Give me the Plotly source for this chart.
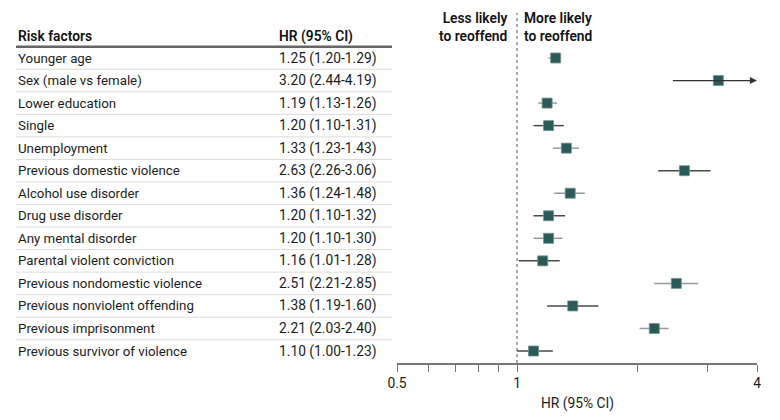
import math
import plotly.graph_objects as go

# ---------------- data ----------------
factors = ["Younger age", "Sex (male vs female)", "Lower education", "Single",
           "Unemployment", "Previous domestic violence", "Alcohol use disorder",
           "Drug use disorder", "Any mental disorder", "Parental violent conviction",
           "Previous nondomestic violence", "Previous nonviolent offending",
           "Previous imprisonment", "Previous survivor of violence"]
hr = [1.25, 3.20, 1.19, 1.20, 1.33, 2.63, 1.36, 1.20, 1.20, 1.16, 2.51, 1.38, 2.21, 1.10]
lo = [1.20, 2.44, 1.13, 1.10, 1.23, 2.26, 1.24, 1.10, 1.10, 1.01, 2.21, 1.19, 2.03, 1.00]
hi = [1.29, 4.19, 1.26, 1.31, 1.43, 3.06, 1.48, 1.32, 1.30, 1.28, 2.85, 1.60, 2.40, 1.23]
tick_vals = [0.5, 0.6, 0.7, 0.8, 0.9, 1, 2, 3, 4]
tick_text = ["0.5", "", "", "", "", "1", "", "", "4"]
x_min, x_max = 0.5, 4

# ---------------- layout helpers ----------------
W, H = 780, 420
FONT = "Roboto, sans-serif"
row0_px, row_step = 58.0, 22.54
axis_px = 363.0
def px_to_row(p):
    return (p - row0_px) / row_step
y_top = px_to_row(0)
y_bot = px_to_row(axis_px)

fig = go.Figure()

# CI lines
n = len(factors)
for i in range(n):
    col = "#4a4a4a" if i % 2 else "#9a9a9a"
    if hi[i] <= x_max:
        fig.add_trace(go.Scatter(x=[lo[i], hi[i]], y=[i, i], mode="lines",
                                 line=dict(color=col, width=1.5),
                                 hoverinfo="skip", showlegend=False))
    else:
        fig.add_annotation(x=math.log10(x_max), y=i, ax=math.log10(lo[i]), ay=i,
                           xref="x", yref="y", axref="x", ayref="y", text="",
                           showarrow=True, arrowhead=2, arrowsize=1.1,
                           arrowwidth=1.3, arrowcolor="#333333")

fig.add_trace(go.Scatter(x=hr, y=list(range(n)), mode="markers",
                         marker=dict(symbol="square", size=10, color="#2a5b58",
                                     line=dict(color="#6f928f", width=0.8)),
                         hoverinfo="skip", showlegend=False))

# table text
for i in range(n):
    fig.add_annotation(x=16 / W, y=i, xref="paper", yref="y", text=factors[i],
                       showarrow=False, xanchor="left", yanchor="middle",
                       font=dict(family=FONT, size=13.3, color="#1c1c1c"))
    fig.add_annotation(x=277 / W, y=i, xref="paper", yref="y",
                       text=f"{hr[i]:.2f} ({lo[i]:.2f}-{hi[i]:.2f})",
                       showarrow=False, xanchor="left", yanchor="middle",
                       font=dict(family=FONT, size=13.8, color="#1c1c1c"))
    if i < n - 1:
        fig.add_shape(type="line", xref="paper", yref="y", x0=16 / W, x1=392 / W,
                      y0=i + 0.5, y1=i + 0.5, line=dict(color="#dcdcd6", width=1))

fig.add_shape(type="line", xref="paper", yref="y", x0=16 / W, x1=392 / W,
              y0=-0.5, y1=-0.5, line=dict(color="#666", width=2.5))
for txt, xp in [("Risk factors", 16), ("HR (95% CI)", 277)]:
    fig.add_annotation(x=xp / W, y=px_to_row(36), xref="paper", yref="y",
                       text=txt, showarrow=False, xanchor="left", yanchor="middle",
                       font=dict(family=FONT, size=13.8, color="#111", weight=600))

fig.add_annotation(x=509 / W, y=px_to_row(27), xref="paper", yref="y",
                   text="Less likely<br>to reoffend", showarrow=False,
                   xanchor="right", yanchor="middle", align="right",
                   font=dict(family=FONT, size=13.8, color="#111", weight=600))
fig.add_annotation(x=522 / W, y=px_to_row(27), xref="paper", yref="y",
                   text="More likely<br>to reoffend", showarrow=False,
                   xanchor="left", yanchor="middle", align="left",
                   font=dict(family=FONT, size=13.8, color="#111", weight=600))

# reference line at HR = 1
fig.add_shape(type="line", xref="x", yref="paper", x0=1, x1=1,
              y0=(H - axis_px) / H, y1=(H - 13) / H,
              line=dict(color="#555", width=1, dash="dot"))

fig.add_annotation(x=577 / W, y=(H - 403) / H, xref="paper", yref="paper",
                   text="HR (95% CI)", showarrow=False, xanchor="center",
                   yanchor="middle", font=dict(family=FONT, size=13.8, color="#1c1c1c"))

fig.update_layout(
    width=W, height=H, margin=dict(l=0, r=0, t=0, b=0, autoexpand=False),
    paper_bgcolor="white", plot_bgcolor="white",
    xaxis=dict(type="log", range=[math.log10(x_min), math.log10(x_max)],
               domain=[397 / W, 757 / W], tickvals=tick_vals, ticktext=tick_text,
               ticks="outside", ticklen=7, tickcolor="#777", tickwidth=1.2,
               showline=True, linecolor="#777", linewidth=1.5,
               showgrid=False, zeroline=False, automargin=False,
               tickfont=dict(family=FONT, size=13.8, color="#1c1c1c")),
    yaxis=dict(range=[y_bot, y_top], domain=[(H - axis_px) / H, 1],
               showticklabels=False, showgrid=False, zeroline=False,
               showline=False, ticks="", automargin=False),
)

fig.write_html("out.html", config={"displayModeBar": False}, post_script=(
    "document.body.style.margin='0';"
    "document.body.style.overflow='hidden';"
    "document.documentElement.style.overflow='hidden';"))
